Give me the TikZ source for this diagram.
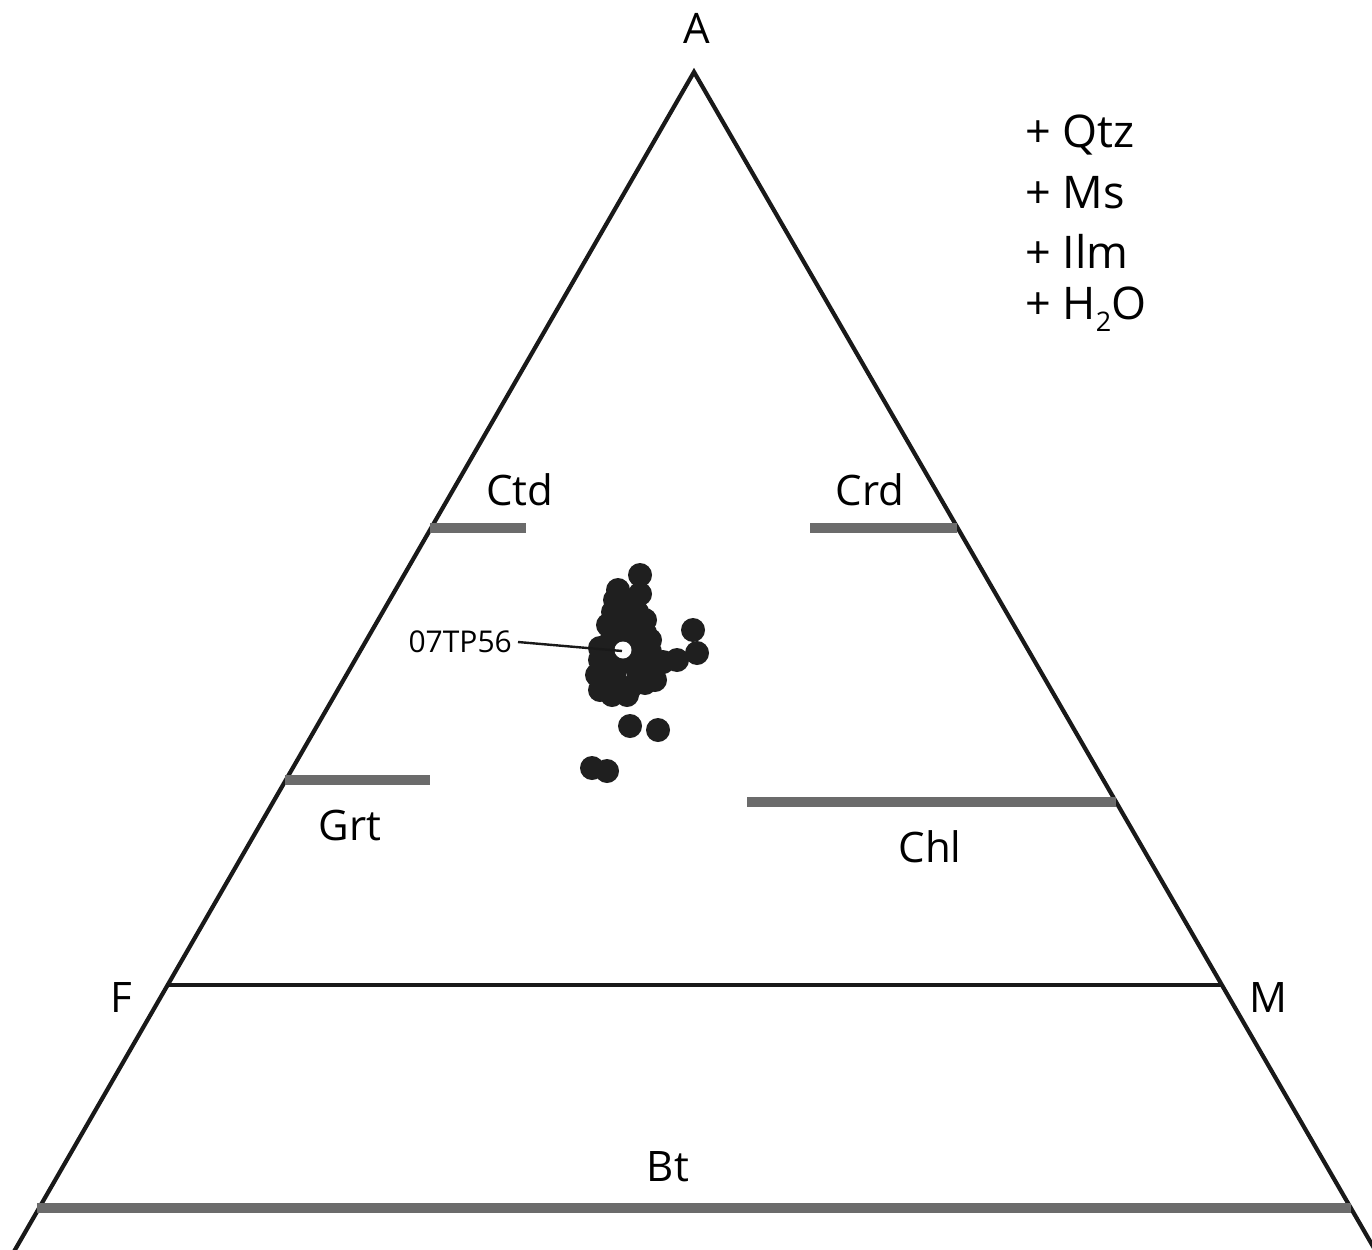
\documentclass[tikz,border=0pt]{standalone}
\usepackage{fontspec}
\setmainfont{Open Sans}
\begin{document}
\begin{tikzpicture}[x=1pt,y=-1pt,
  edge/.style={line width=4.2pt,black!90},
  tieline/.style={line width=10pt,draw=black!58},
  lbl/.style={font=\fontsize{42}{50}\selectfont,inner sep=0pt},
  asm/.style={font=\fontsize{45}{54}\selectfont,inner sep=0pt,anchor=west},
  smalllbl/.style={font=\fontsize{30}{36}\selectfont,inner sep=0pt},
  datum/.style={fill=black!88}]
\useasboundingbox[fill=white] (0,0) rectangle (1372,1249);
\begin{scope}
\clip (0,0) rectangle (1372,1249);
% triangle corners and the F--M join
\coordinate (apex) at (694,72);
\coordinate (F) at (168,985);
\coordinate (M) at (1222,985);
\coordinate (bl) at (12,1255);
\coordinate (br) at (1378,1255);
\draw[edge,line join=miter] (bl) -- (apex) -- (br);
\draw[edge] (F) -- (M);
% tie lines of the phases
\coordinate (ctdL) at (430,528); \coordinate (ctdR) at (526,528);
\coordinate (crdL) at (810,528); \coordinate (crdR) at (957,528);
\coordinate (grtL) at (285,780); \coordinate (grtR) at (430,780);
\coordinate (chlL) at (747,802); \coordinate (chlR) at (1116,802);
\coordinate (btL) at (37,1208); \coordinate (btR) at (1351,1208);
\draw[tieline] (ctdL) -- (ctdR);
\draw[tieline] (crdL) -- (crdR);
\draw[tieline] (grtL) -- (grtR);
\draw[tieline] (chlL) -- (chlR);
\draw[tieline] (btL) -- (btR);
\end{scope}
% labels
\node[lbl] (lA) at (697,28) {A};
\node[lbl] (lF) at (121,997) {F};
\node[lbl] (lM) at (1268,997) {M};
\node[lbl] (lCtd) at (520,490) {Ctd};
\node[lbl] (lCrd) at (870,490) {Crd};
\node[lbl] (lGrt) at (350,825) {Grt};
\node[lbl] (lChl) at (930,847) {Chl};
\node[lbl] (lBt) at (668,1167) {Bt};
% assemblage
\node[asm] (qtz) at (1025,135) {+ Qtz};
\node[asm] (ms) at (1025,193) {+ Ms};
\node[asm] (ilm) at (1025,251) {+ Ilm};
\node[asm] (hho) at (1025,309) {+ H\raisebox{-0.26em}{\fontsize{27}{32}\selectfont 2}O};
% analyses
\foreach \p in {(640,575),(618,590),(640,594),(625,600),(613,612),(637,612),
  (615,600),(632,605),(628,615),(620,620),(645,620),(650,640),(620,640),
  (635,640),(600,660),(630,688),(612,695),(645,670),(655,680),(600,690),
  (627,693),(640,660),
  (608,625),(630,625),(645,633),(612,638),(640,645),(600,648),(650,652),
  (657,665),(597,675),(615,670),(638,672),(607,688),(627,695),(617,683),
  (645,683),(625,660),(610,660),(693,630),(697,653),(677,660),(663,662),
  (630,726),(658,730),(592,768),(607,771)}
  \fill[datum] \p circle (12);
\fill[white] (623,650) circle (8.5);
% sample label and leader
\node[smalllbl,anchor=east] (smp) at (512,642) {07TP56};
\coordinate (smpend) at (622,651);
\draw[line width=2.4pt,black!90] (smp.east) ++(6,0) -- (smpend);
\end{tikzpicture}
\end{document}
